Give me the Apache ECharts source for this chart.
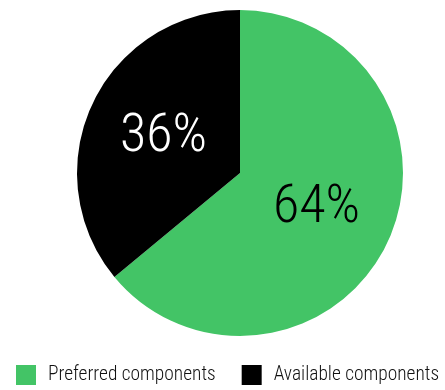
<!DOCTYPE html>
<html>
<head>
<meta charset="utf-8">
<style>
  html, body { margin: 0; padding: 0; background: #fff; }
  #chart { width: 445px; height: 390px; }
</style>
<script src="https://cdn.jsdelivr.net/npm/echarts@6/dist/echarts.min.js"></script>
</head>
<body>
<div id="chart"></div>
<script>
// Share of components by type
const categories = ['Preferred components', 'Available components'];
const shares = [64, 36];
const colors = ['#43c466', '#000000'];
const labelColors = ['#000000', '#ffffff'];

const FONT = '"Roboto Condensed", "Liberation Sans Narrow", "DejaVu Sans Condensed", sans-serif';

const chart = echarts.init(document.getElementById('chart'));
chart.setOption({
  animation: false,
  legend: {
    bottom: 0,
    left: 11,
    width: 440,
    itemWidth: 20,
    itemHeight: 20,
    itemGap: 26,
    icon: 'rect',
    textStyle: {
      fontFamily: FONT, fontWeight: 300, fontSize: 19.4, color: '#111',
      padding: [0, 0, 0, 7]
    },
    data: categories
  },
  series: [{
    type: 'pie',
    center: [240, 173],
    radius: 163,
    startAngle: 90,
    clockwise: true,
    label: {
      position: 'inside',
      fontFamily: FONT,
      fontWeight: 300,
      fontSize: 54,
      formatter: '{c}%'
    },
    labelLine: { show: false },
    emphasis: { disabled: true },
    data: categories.map((name, i) => ({
      name,
      value: shares[i],
      itemStyle: { color: colors[i] },
      label: { color: labelColors[i] }
    }))
  }]
});
</script>
</body>
</html>
